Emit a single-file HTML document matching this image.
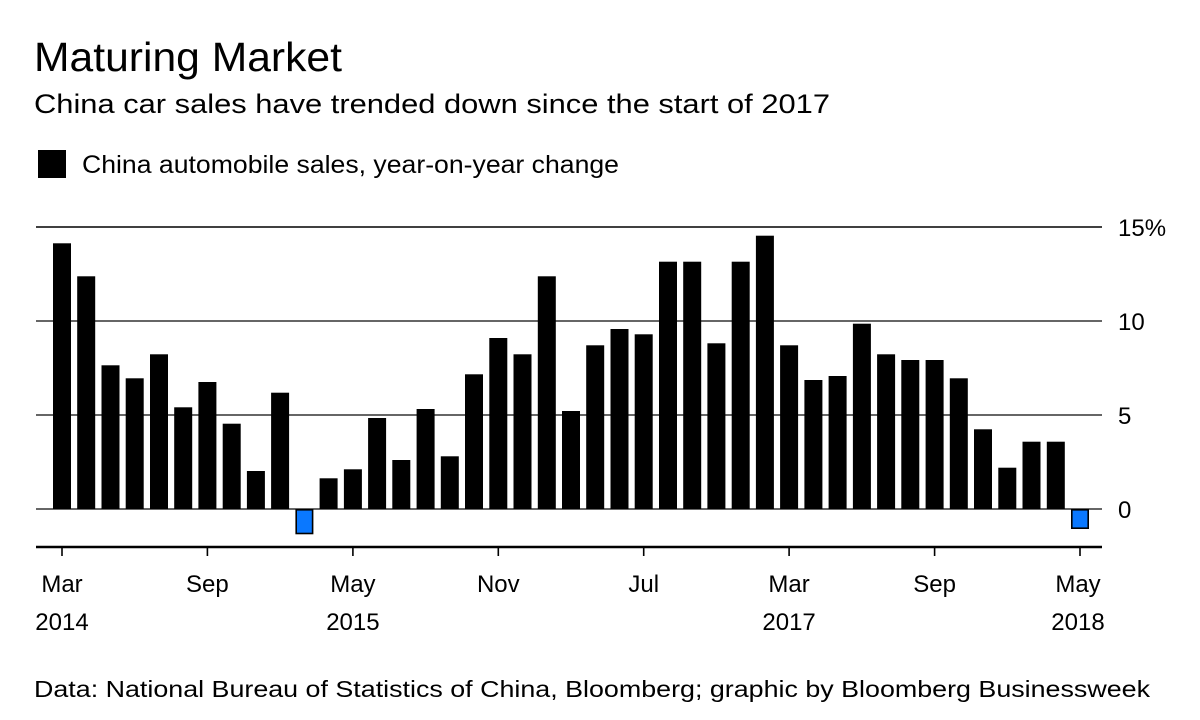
<!DOCTYPE html>
<html><head><meta charset="utf-8"><style>
html,body{margin:0;padding:0;background:#fff;}
svg{display:block;font-family:"Liberation Sans",sans-serif;}
</style></head><body>
<svg width="1200" height="720" viewBox="0 0 1200 720" xmlns="http://www.w3.org/2000/svg">
<text x="34" y="71" font-size="41" fill="#000" textLength="308" lengthAdjust="spacingAndGlyphs">Maturing Market</text>
<text x="34" y="113" font-size="27" fill="#000" textLength="796" lengthAdjust="spacingAndGlyphs">China car sales have trended down since the start of 2017</text>
<rect x="38" y="150" width="28" height="28" fill="#000"/>
<text x="82" y="173" font-size="25" fill="#000" textLength="537" lengthAdjust="spacingAndGlyphs">China automobile sales, year-on-year change</text>
<g stroke-width="1.6">
<line x1="36" y1="227" x2="1102" y2="227" stroke="#000"/>
<line x1="36" y1="321" x2="1102" y2="321" stroke="#333"/>
<line x1="36" y1="415" x2="1102" y2="415" stroke="#333"/>
<line x1="36" y1="509" x2="1102" y2="509" stroke="#333"/>
</g>
<g font-size="24" fill="#000">
<text x="1118" y="236">15%</text>
<text x="1118" y="330">10</text>
<text x="1118" y="424">5</text>
<text x="1118" y="518">0</text>
</g>
<g fill="#000">
<rect x="53.0" y="243.3" width="18" height="265.7"/>
<rect x="77.2" y="276.3" width="18" height="232.7"/>
<rect x="101.5" y="365.3" width="18" height="143.7"/>
<rect x="125.7" y="378.3" width="18" height="130.7"/>
<rect x="150.0" y="354.3" width="18" height="154.7"/>
<rect x="174.2" y="407.3" width="18" height="101.7"/>
<rect x="198.4" y="382" width="18" height="127"/>
<rect x="222.7" y="423.7" width="18" height="85.3"/>
<rect x="246.9" y="471" width="18" height="38"/>
<rect x="271.1" y="392.7" width="18" height="116.3"/>
<rect x="319.6" y="478.3" width="18" height="30.7"/>
<rect x="343.9" y="469.3" width="18" height="39.7"/>
<rect x="368.1" y="418" width="18" height="91"/>
<rect x="392.3" y="460" width="18" height="49"/>
<rect x="416.6" y="409" width="18" height="100"/>
<rect x="440.8" y="456.3" width="18" height="52.7"/>
<rect x="465.0" y="374.3" width="18" height="134.7"/>
<rect x="489.3" y="338" width="18" height="171"/>
<rect x="513.5" y="354.3" width="18" height="154.7"/>
<rect x="537.8" y="276.3" width="18" height="232.7"/>
<rect x="562.0" y="411" width="18" height="98"/>
<rect x="586.2" y="345.3" width="18" height="163.7"/>
<rect x="610.5" y="329" width="18" height="180"/>
<rect x="634.7" y="334.3" width="18" height="174.7"/>
<rect x="659.0" y="261.7" width="18" height="247.3"/>
<rect x="683.2" y="261.7" width="18" height="247.3"/>
<rect x="707.4" y="343.3" width="18" height="165.7"/>
<rect x="731.7" y="261.7" width="18" height="247.3"/>
<rect x="755.9" y="235.7" width="18" height="273.3"/>
<rect x="780.1" y="345.3" width="18" height="163.7"/>
<rect x="804.4" y="380" width="18" height="129"/>
<rect x="828.6" y="376" width="18" height="133"/>
<rect x="852.9" y="323.7" width="18" height="185.3"/>
<rect x="877.1" y="354.3" width="18" height="154.7"/>
<rect x="901.3" y="360" width="18" height="149"/>
<rect x="925.6" y="360" width="18" height="149"/>
<rect x="949.8" y="378.3" width="18" height="130.7"/>
<rect x="974.0" y="429.3" width="18" height="79.7"/>
<rect x="998.3" y="467.7" width="18" height="41.3"/>
<rect x="1022.5" y="441.7" width="18" height="67.3"/>
<rect x="1046.8" y="441.7" width="18" height="67.3"/>
</g>
<rect x="296.2" y="509.8" width="16.4" height="23.7" fill="#0a78ff" stroke="#000" stroke-width="1.6"/>
<rect x="1071.8" y="509.8" width="16.4" height="18.4" fill="#0a78ff" stroke="#000" stroke-width="1.6"/>
<line x1="36" y1="547" x2="1102" y2="547" stroke="#000" stroke-width="2.5"/>
<g stroke="#000" stroke-width="1.6">
<line x1="62" y1="547" x2="62" y2="556"/>
<line x1="207.4" y1="547" x2="207.4" y2="556"/>
<line x1="352.9" y1="547" x2="352.9" y2="556"/>
<line x1="498.3" y1="547" x2="498.3" y2="556"/>
<line x1="643.7" y1="547" x2="643.7" y2="556"/>
<line x1="789.1" y1="547" x2="789.1" y2="556"/>
<line x1="934.6" y1="547" x2="934.6" y2="556"/>
<line x1="1080" y1="547" x2="1080" y2="556"/>
</g>
<g font-size="24" fill="#000" text-anchor="middle">
<text x="62" y="592">Mar</text><text x="62" y="630">2014</text>
<text x="207.4" y="592">Sep</text>
<text x="352.9" y="592">May</text><text x="352.9" y="630">2015</text>
<text x="498.3" y="592">Nov</text>
<text x="643.7" y="592">Jul</text>
<text x="789.1" y="592">Mar</text><text x="789.1" y="630">2017</text>
<text x="934.6" y="592">Sep</text>
<text x="1078" y="592">May</text><text x="1078" y="630">2018</text>
</g>
<text x="34" y="697" font-size="23" fill="#000" textLength="1116" lengthAdjust="spacingAndGlyphs">Data: National Bureau of Statistics of China, Bloomberg; graphic by Bloomberg Businessweek</text>
</svg>
</body></html>
